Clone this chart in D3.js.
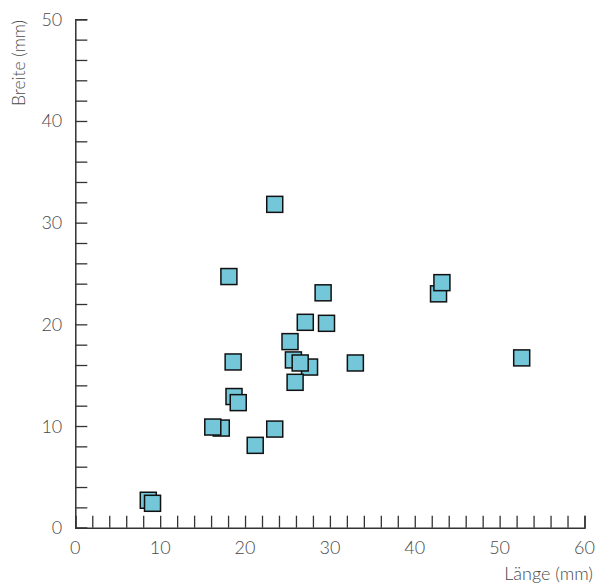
<!DOCTYPE html>
<html>
<head>
<meta charset="utf-8">
<script src="https://cdn.jsdelivr.net/npm/d3@7"></script>
<style>
  body { margin: 0; background: #fff; }
  text { font-family: Lato, "Noto Sans", sans-serif; font-weight: 300; fill: #4a4a4a; }
</style>
</head>
<body>
<div id="scatter"></div>
<script>
// data (Länge, Breite in mm), in drawing order
var laenge = [23.5, 18.1, 29.2, 42.8, 43.2, 27.1, 29.6, 25.3, 25.7, 27.6, 26.5, 18.6, 33.0, 52.6, 25.9, 18.7, 19.2, 17.2, 16.2, 23.5, 21.2, 8.6, 9.1];
var breite = [31.8, 24.7, 23.1, 23.0, 24.1, 20.2, 20.1, 18.3, 16.5, 15.8, 16.2, 16.3, 16.2, 16.7, 14.3, 12.9, 12.3, 9.8, 9.9, 9.7, 8.1, 2.7, 2.4];
var xTicks = [0, 10, 20, 30, 40, 50, 60];
var yTicks = [0, 10, 20, 30, 40, 50];

var svgWidth = 596;
var svgHeight = 585;

const margin = { top: 19.3, right: 11.5, bottom: 57.3, left: 75.3 };
var width = svgWidth - margin.left - margin.right;
var height = svgHeight - margin.top - margin.bottom;

var svg = d3.select("#scatter")
  .append("svg")
  .attr("width", svgWidth)
  .attr("height", svgHeight);

var chartGroup = svg.append("g")
  .attr("transform", `translate(${margin.left}, ${margin.top})`);

var xScale = d3.scaleLinear().domain([0, 60]).range([0, width]);
var yScale = d3.scaleLinear().domain([0, 50]).range([height, 0]);

// minor + major ticks every 2 units, pointing inward
var xAxis = d3.axisBottom(xScale).tickValues(d3.range(0, 61, 2))
  .tickSize(-12).tickPadding(0).tickFormat("");
var yAxis = d3.axisLeft(yScale).tickValues(d3.range(0, 51, 2))
  .tickSize(-12).tickPadding(0).tickFormat("");

var xg = chartGroup.append("g").attr("transform", `translate(0, ${height})`).call(xAxis);
var yg = chartGroup.append("g").call(yAxis);
[xg, yg].forEach(function(g) {
  g.select(".domain").attr("stroke", "#333").attr("stroke-width", 1.5);
  g.selectAll(".tick line").attr("stroke", "#333").attr("stroke-width", 1.3);
});

// tick labels
chartGroup.append("g")
  .selectAll("text")
  .data(xTicks)
  .enter()
  .append("text")
  .attr("x", d => xScale(d))
  .attr("y", height + 26)
  .attr("text-anchor", "middle")
  .attr("font-size", "18px")
  .text(d => d);

chartGroup.append("g")
  .selectAll("text")
  .data(yTicks)
  .enter()
  .append("text")
  .attr("x", -13)
  .attr("y", d => yScale(d) + 6.5)
  .attr("text-anchor", "end")
  .attr("font-size", "18px")
  .text(d => d);

// axis titles
svg.append("text")
  .attr("x", 593)
  .attr("y", 580)
  .attr("text-anchor", "end")
  .attr("font-size", "18px")
  .text("Länge (mm)");

svg.append("text")
  .attr("transform", "translate(25, 20) rotate(-90)")
  .attr("text-anchor", "end")
  .attr("font-size", "17.5px")
  .text("Breite (mm)");

// squares
var s = 16;
chartGroup.append("g")
  .selectAll("rect")
  .data(laenge.map((d, i) => ({ x: d, y: breite[i] })))
  .enter()
  .append("rect")
  .attr("x", d => xScale(d.x) - s / 2)
  .attr("y", d => yScale(d.y) - s / 2)
  .attr("width", s)
  .attr("height", s)
  .attr("fill", "#73c7d9")
  .attr("stroke", "#111")
  .attr("stroke-width", 1.5);
</script>
</body>
</html>
